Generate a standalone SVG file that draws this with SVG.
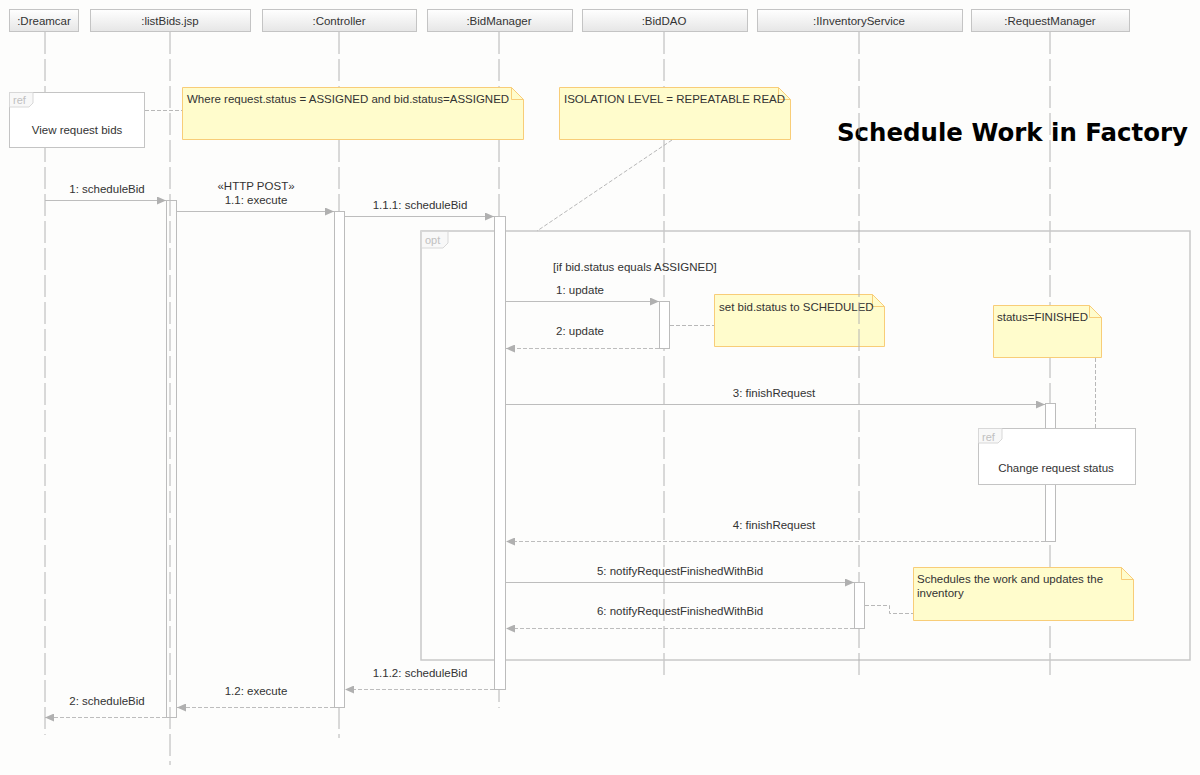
<svg xmlns="http://www.w3.org/2000/svg" width="1200" height="775" viewBox="0 0 1200 775">
<style>
text{font-family:"Liberation Sans",Arial,sans-serif;font-size:11.5px;fill:#333}
.hdr rect{fill:url(#hg);stroke:#c4c4c4;stroke-width:1}
.hdr text{text-anchor:middle}
.life{stroke:#b4b4b4;stroke-width:1;stroke-dasharray:22 5;fill:none}
.act{fill:#fff;stroke:#bcbcbc;stroke-width:1}
.msg{stroke:#bdbdbd;stroke-width:1;fill:none;marker-end:url(#ah)}
.ret{stroke:#bdbdbd;stroke-width:1;fill:none;stroke-dasharray:4 2;marker-end:url(#ah)}
.lbl{text-anchor:middle}
.note path.b{fill:#fffccc;stroke:#f8cd78;stroke-width:1}
.note path.f{fill:none;stroke:#f8cd78;stroke-width:1}
.frame{fill:none;stroke:#c8c8c8;stroke-width:1.5}
.reffill{fill:#fff;stroke:#c4c4c4;stroke-width:1}
.tag{fill:#f8f8f8;stroke:#d8d8d8;stroke-width:1}
.tagt{fill:#c0c0c0;font-size:11px}
.conn{stroke:#b8b8b8;stroke-width:1;stroke-dasharray:4 2;fill:none}
</style>
<defs>
<linearGradient id="hg" x1="0" y1="0" x2="0" y2="1">
<stop offset="0" stop-color="#ffffff"/>
<stop offset="1" stop-color="#e6e6e6"/>
</linearGradient>
<marker id="ah" markerUnits="userSpaceOnUse" markerWidth="10" markerHeight="8" refX="9" refY="4" orient="auto">
<path d="M0,0 L9,4 L0,8 z" fill="#b0b0b0"/>
</marker>
</defs>
<rect width="1200" height="775" fill="#fdfdfc"/>

<!-- lifelines -->
<g id="lifelines">
<line class="life" x1="45" y1="32" x2="45" y2="735"/>
<line class="life" x1="170" y1="32" x2="170" y2="765"/>
<line class="life" x1="339" y1="32" x2="339" y2="738"/>
<line class="life" x1="499" y1="32" x2="499" y2="708"/>
<line class="life" x1="664" y1="32" x2="664" y2="680"/>
<line class="life" x1="1050" y1="32" x2="1050" y2="680"/>
</g>

<!-- headers -->
<g id="dreamcar" class="hdr"><rect x="9.5" y="9.5" width="69" height="22"/><text x="44" y="24.5">:Dreamcar</text></g>
<g id="listbids" class="hdr"><rect x="90.5" y="9.5" width="160" height="22"/><text x="170" y="24.5">:listBids.jsp</text></g>
<g id="controller" class="hdr"><rect x="262.5" y="9.5" width="154" height="22"/><text x="339" y="24.5">:Controller</text></g>
<g id="bidmanager" class="hdr"><rect x="427.5" y="9.5" width="145" height="22"/><text x="499" y="24.5">:BidManager</text></g>
<g id="biddao" class="hdr"><rect x="582.5" y="9.5" width="165" height="22"/><text x="664" y="24.5">:BidDAO</text></g>
<g id="inventory" class="hdr"><rect x="757.5" y="9.5" width="205" height="22"/><text x="859" y="24.5">:IInventoryService</text></g>
<g id="requestmanager" class="hdr"><rect x="971.5" y="9.5" width="158" height="22"/><text x="1050" y="24.5">:RequestManager</text></g>

<!-- title -->
<text id="title" x="837" y="141" textLength="351" lengthAdjust="spacingAndGlyphs" style="font-family:'DejaVu Sans',Verdana,sans-serif;font-weight:bold;font-size:24px;fill:#000">Schedule Work in Factory</text>

<!-- opt frame -->
<g id="opt">
<rect class="frame" x="421" y="231" width="769" height="429"/>
<path class="tag" d="M421.5,231.5 H448 V243 L443,248 H421.5 Z"/>
<text class="tagt" x="425" y="244">opt</text>
<text x="553" y="271">[if bid.status equals ASSIGNED]</text>
</g>

<!-- ref: View request bids -->
<g id="ref-view">
<rect class="reffill" x="9.5" y="92.5" width="135" height="55"/>
<path class="tag" d="M9.5,92.5 H33 V103 L29,107 H9.5 Z"/>
<text class="tagt" x="13" y="104">ref</text>
<text class="lbl" x="77" y="134">View request bids</text>
</g>

<!-- notes -->
<g id="note-where" class="note">
<path class="b" d="M182.5,87.5 H511.5 L523.5,99.5 V139.5 H182.5 Z"/>
<path class="f" d="M511.5,87.5 V99.5 H523.5"/>
<text x="187" y="103">Where request.status = ASSIGNED and bid.status=ASSIGNED</text>
</g>
<g id="note-isolation" class="note">
<path class="b" d="M559.5,87.5 H778.5 L790.5,99.5 V139.5 H559.5 Z"/>
<path class="f" d="M778.5,87.5 V99.5 H790.5"/>
<text x="564" y="103">ISOLATION LEVEL = REPEATABLE READ</text>
</g>
<g id="note-scheduled" class="note">
<path class="b" d="M714.5,294.5 H872.5 L884.5,306.5 V346.5 H714.5 Z"/>
<path class="f" d="M872.5,294.5 V306.5 H884.5"/>
<text x="719" y="311">set bid.status to SCHEDULED</text>
</g>
<g id="note-finished" class="note">
<path class="b" d="M993.5,305.5 H1089.5 L1101.5,317.5 V357.5 H993.5 Z"/>
<path class="f" d="M1089.5,305.5 V317.5 H1101.5"/>
<text x="997" y="321">status=FINISHED</text>
</g>
<g id="note-schedules" class="note">
<path class="b" d="M913.5,567.5 H1121.5 L1133.5,579.5 V620.5 H913.5 Z"/>
<path class="f" d="M1121.5,567.5 V579.5 H1133.5"/>
<text x="917" y="583">Schedules the work and updates the</text>
<text x="917" y="597">inventory</text>
</g>

<line class="life" x1="859" y1="32" x2="859" y2="680"/>

<!-- activations -->
<g id="activations">
<rect x="166.5" y="200.5" width="10" height="517" fill="none" stroke="#bcbcbc"/>
<rect class="act" x="334.5" y="211.5" width="10" height="496"/>
<rect class="act" x="494.5" y="216.5" width="11" height="473"/>
<rect class="act" x="659.5" y="301.5" width="10" height="47"/>
<rect class="act" x="1045.5" y="403.5" width="10" height="138"/>
<rect class="act" x="854.5" y="582.5" width="10" height="46"/>
</g>

<!-- ref: Change request status -->
<g id="ref-change">
<rect class="reffill" x="978.5" y="428.5" width="157" height="56"/>
<path class="tag" d="M978.5,428.5 H1002 V439 L998,443 H978.5 Z"/>
<text class="tagt" x="982" y="441">ref</text>
<text class="lbl" x="1056" y="472">Change request status</text>
</g>

<!-- connectors -->
<g id="connectors">
<line class="conn" x1="145" y1="110.5" x2="182" y2="110.5"/>
<line class="conn" x1="672" y1="140" x2="537" y2="231"/>
<line class="conn" x1="670" y1="325.5" x2="714" y2="325.5"/>
<line class="conn" x1="1095.5" y1="358" x2="1095.5" y2="428"/>
<path class="conn" d="M865,605.5 H889.5 V613.5 H913"/>

<path class="msg" d="M45,200.5 H166"/>
<path class="msg" d="M177,211.5 H334"/>
<path class="msg" d="M345,216.5 H494"/>
<path class="msg" d="M506,301.5 H659"/>
<path class="ret" d="M659,348.5 H506"/>
<path class="msg" d="M506,404.5 H1045"/>
<path class="ret" d="M1045,541.5 H506"/>
<path class="msg" d="M506,582.5 H854"/>
<path class="ret" d="M854,628.5 H506"/>
<path class="ret" d="M494,689.5 H345"/>
<path class="ret" d="M334,707.5 H177"/>
<path class="ret" d="M166,717.5 H45"/>

<text class="lbl" x="107" y="193">1: scheduleBid</text>
<text class="lbl" x="256" y="190">«HTTP POST»</text>
<text class="lbl" x="256" y="204">1.1: execute</text>
<text class="lbl" x="420" y="209">1.1.1: scheduleBid</text>
<text class="lbl" x="580" y="294">1: update</text>
<text class="lbl" x="580" y="335">2: update</text>
<text class="lbl" x="774" y="397">3: finishRequest</text>
<text class="lbl" x="774" y="529">4: finishRequest</text>
<text class="lbl" x="680" y="575">5: notifyRequestFinishedWithBid</text>
<text class="lbl" x="680" y="615">6: notifyRequestFinishedWithBid</text>
<text class="lbl" x="420" y="677">1.1.2: scheduleBid</text>
<text class="lbl" x="256" y="695">1.2: execute</text>
<text class="lbl" x="107" y="705">2: scheduleBid</text>
</g>
</svg>
